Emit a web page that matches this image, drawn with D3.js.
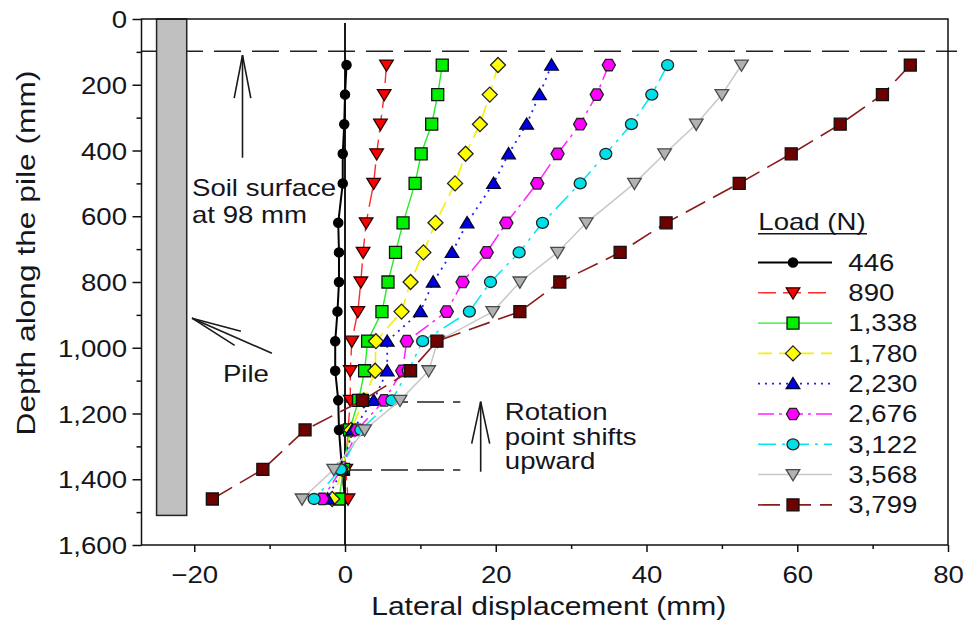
<!DOCTYPE html>
<html><head><meta charset="utf-8">
<script src="https://cdn.jsdelivr.net/npm/d3@7"></script>
<style>
html,body{margin:0;padding:0;background:#fff;}
svg{display:block;font-family:"Liberation Sans",Arial,Helvetica,sans-serif;}
</style></head><body>
<svg id="chart" width="970" height="628"></svg>
<script>
// ---------------- DATA ----------------
const depths = [140, 230, 320, 410, 500, 620, 710, 800, 890, 980, 1070, 1160, 1250, 1370, 1460];
const loads = ["446", "890", "1,338", "1,780", "2,230", "2,676", "3,122", "3,568", "3,799"];
const disp446  = [0.2, 0.0, -0.1, -0.3, -0.3, -0.9, -0.8, -0.8, -1.0, -1.3, -1.3, -0.9, -0.8, -0.4, 0.0];
const disp890  = [5.5, 5.2, 4.7, 4.2, 3.8, 2.8, 2.4, 2.1, 1.7, 0.9, 0.7, 0.7, 0.4, 0.1, 0.4];
const disp1338 = [12.9, 12.3, 11.5, 10.1, 9.3, 7.7, 6.7, 5.7, 4.9, 3.0, 2.6, 1.8, 0.6, -0.2, -0.8];
const disp1780 = [20.3, 19.2, 17.9, 16.0, 14.6, 12.0, 10.4, 8.7, 7.5, 4.1, 4.0, 2.5, 0.8, -0.3, -1.7];
const disp2230 = [27.4, 25.8, 24.1, 21.7, 19.7, 16.2, 14.2, 11.7, 10.0, 5.6, 5.6, 3.8, 1.0, -0.4, -2.3];
const disp2676 = [35.0, 33.4, 31.2, 28.2, 25.5, 21.4, 18.8, 15.6, 13.5, 8.2, 7.6, 5.2, 1.6, -0.5, -3.0];
const disp3122 = [42.8, 40.7, 38.0, 34.6, 31.2, 26.2, 23.1, 19.3, 16.5, 10.3, 8.4, 6.2, 2.1, -0.6, -4.1];
const disp3568 = [52.6, 50.0, 46.6, 42.4, 38.4, 32.0, 28.2, 23.2, 19.6, 12.3, 11.1, 7.3, 2.6, -1.5, -5.7];
const disp3799 = [75.0, 71.3, 65.7, 59.2, 52.3, 42.6, 36.5, 28.5, 23.2, 12.2, 8.7, 2.3, -5.3, -10.9, -17.6];
const xTicks = [-20, 0, 20, 40, 60, 80];
const xMinorTicks = [-10, 10, 30, 50, 70];
const yTicks = [0, 200, 400, 600, 800, 1000, 1200, 1400, 1600];
const yMinorTicks = [100, 300, 500, 700, 900, 1100, 1300, 1500];
const soilSurfaceDepth = 98;
const pileLeft = -25, pileRight = -21, pileBottom = 1510;
const rotationDepths = [1165, 1372];

const allSeries = [disp446, disp890, disp1338, disp1780, disp2230, disp2676, disp3122, disp3568, disp3799];

// ---------------- STYLES ----------------
const styles = [
  {color:'#000000', width:2.0, dash:null,        marker:'dot',     fill:'#000000', stroke:'#000000'},
  {color:'#ff2a2a', width:1.4, dash:'18,7',      marker:'tdown',   fill:'#ff0000', stroke:'#2a0000'},
  {color:'#22ee22', width:1.4, dash:null,        marker:'square',  fill:'#00f000', stroke:'#111111'},
  {color:'#f2f200', width:1.6, dash:'14,7',      marker:'diamond', fill:'#ffff00', stroke:'#222222'},
  {color:'#2020ff', width:1.8, dash:'2,5',       marker:'tup',     fill:'#0000e0', stroke:'#000033'},
  {color:'#ff22ff', width:1.5, dash:'16,5,3,5',  marker:'hex',     fill:'#ff00ff', stroke:'#222222'},
  {color:'#00e8f0', width:1.5, dash:'18,6,3,6',  marker:'circle',  fill:'#00e0e8', stroke:'#222222'},
  {color:'#c8c8c8', width:1.5, dash:null,        marker:'tdown',   fill:'#b2b2b2', stroke:'#4a4a4a'},
  {color:'#8b1a1a', width:1.6, dash:'22,9',      marker:'square',  fill:'#6e0000', stroke:'#111111'}
];
const textColor = '#15151c';

function markerPath(type){
  switch(type){
    case 'dot': return 'M-4.6,0a4.6,4.6 0 1,0 9.2,0a4.6,4.6 0 1,0 -9.2,0Z';
    case 'circle': return 'M-6,0a6,5.5 0 1,0 12,0a6,5.5 0 1,0 -12,0Z';
    case 'square': return 'M-6,-6h12v12h-12Z';
    case 'diamond': return 'M0,-7.5L7.5,0L0,7.5L-7.5,0Z';
    case 'tdown': return 'M-6.8,-5L6.8,-5L0,6.2Z';
    case 'tup': return 'M0,-6.2L6.8,5L-6.8,5Z';
    case 'hex': {
      const p = d3.path();
      for (let i = 0; i < 6; i++) {
        const a = Math.PI / 3 * i;
        const px = 6.6 * Math.cos(a), py = 6.6 * Math.sin(a);
        if (i === 0) p.moveTo(px, py); else p.lineTo(px, py);
      }
      p.closePath();
      return p.toString();
    }
  }
}

// ---------------- SCALES ----------------
const svg = d3.select('#chart');
const L = 141.5, R = 948, T = 19, B = 545;
const x = d3.scaleLinear().domain([-27, 80]).range([L, R]);
const y = d3.scaleLinear().domain([0, 1600]).range([T, B]);

function addText(parent, px, py, str, size, sx, anchor, rot) {
  let tr = `translate(${px},${py})`;
  if (rot) tr += ` rotate(${rot})`;
  tr += ` scale(${sx},1)`;
  return parent.append('text')
    .attr('transform', tr)
    .attr('text-anchor', anchor || 'start')
    .attr('fill', textColor)
    .style('font-size', size + 'px')
    .text(str);
}

// soil-surface dashed line (under pile)
svg.append('line')
  .attr('x1', x(-27)).attr('x2', R + 9)
  .attr('y1', y(soilSurfaceDepth)).attr('y2', y(soilSurfaceDepth))
  .attr('stroke', '#222').attr('stroke-width', 1.5)
  .attr('stroke-dasharray', '27,11').attr('stroke-dashoffset', 3.5);

// pile
svg.append('rect')
  .attr('x', x(pileLeft)).attr('y', y(0))
  .attr('width', x(pileRight) - x(pileLeft)).attr('height', y(pileBottom) - y(0))
  .attr('fill', '#c0c0c0').attr('stroke', '#222').attr('stroke-width', 1.5);

// zero line
svg.append('line')
  .attr('x1', x(0)).attr('x2', x(0))
  .attr('y1', T + 4).attr('y2', B)
  .attr('stroke', '#000').attr('stroke-width', 1.8);

// rotation dashed lines
rotationDepths.forEach(d => {
  svg.append('line')
    .attr('x1', x(0)).attr('x2', x(15.3))
    .attr('y1', y(d)).attr('y2', y(d))
    .attr('stroke', '#222').attr('stroke-width', 1.5)
    .attr('stroke-dasharray', '27,9');
});

// ---------------- SERIES ----------------
const line = d3.line().x(d => x(d[0])).y(d => y(d[1]));
allSeries.forEach((vals, i) => {
  const st = styles[i];
  const pts = vals.map((v, k) => [v, depths[k]]);
  const g = svg.append('g');
  g.append('path')
    .attr('d', line(pts))
    .attr('fill', 'none')
    .attr('stroke', st.color)
    .attr('stroke-width', st.width)
    .attr('stroke-dasharray', st.dash);
  g.selectAll('path.m').data(pts).join('path')
    .attr('class', 'm')
    .attr('d', markerPath(st.marker))
    .attr('transform', d => `translate(${x(d[0])},${y(d[1])})`)
    .attr('fill', st.fill)
    .attr('stroke', st.stroke)
    .attr('stroke-width', 1.3);
});

// ---------------- FRAME & AXES ----------------
svg.append('rect')
  .attr('x', L).attr('y', T).attr('width', R - L).attr('height', B - T)
  .attr('fill', 'none').attr('stroke', '#111').attr('stroke-width', 1.5);

const xAxis = svg.append('g').attr('transform', `translate(0,${B})`)
  .call(d3.axisBottom(x).tickValues(xTicks).tickSize(7).tickFormat(d3.format(',')));
const xAxisMinor = svg.append('g').attr('transform', `translate(0,${B})`)
  .call(d3.axisBottom(x).tickValues(xMinorTicks).tickSize(4).tickFormat(''));
const yAxis = svg.append('g').attr('transform', `translate(${L},0)`)
  .call(d3.axisLeft(y).tickValues(yTicks).tickSize(9).tickFormat(d3.format(',')));
const yAxisMinor = svg.append('g').attr('transform', `translate(${L},0)`)
  .call(d3.axisLeft(y).tickValues(yMinorTicks).tickSize(5).tickFormat(''));

[xAxis, xAxisMinor, yAxis, yAxisMinor].forEach(a => {
  a.select('.domain').remove();
  a.selectAll('.tick line').attr('stroke', '#111').attr('stroke-width', 1.5);
});
const tickSX = 1.15, tickFS = 24;
xAxis.selectAll('.tick text')
  .attr('fill', textColor).attr('font-family', null).attr('font-size', null)
  .style('font-size', tickFS + 'px')
  .attr('dy', null).attr('y', 37.7)
  .attr('transform', `scale(${tickSX},1)`);
yAxis.selectAll('.tick text')
  .attr('fill', textColor).attr('font-family', null).attr('font-size', null)
  .style('font-size', tickFS + 'px')
  .attr('dy', null).attr('y', 8.6).attr('x', -14.5 / tickSX)
  .attr('transform', `scale(${tickSX},1)`);

// axis titles
addText(svg, (L + R) / 2 + 4, 615, 'Lateral displacement (mm)', 25, 1.2, 'middle');
addText(svg, 35, 253, 'Depth along the pile (mm)', 26, 1.22, 'middle', -90);

// ---------------- ANNOTATIONS ----------------
function arrow(x1, y1, x2, y2, headLen, headHalf) {
  // (x2,y2) is the tip
  const dx = x1 - x2, dy = y1 - y2, len = Math.hypot(dx, dy);
  const ux = dx / len, uy = dy / len, nx = -uy, ny = ux;
  const g = svg.append('g').attr('stroke', '#1a1a1a').attr('stroke-width', 1.6).attr('fill', 'none');
  g.append('line').attr('x1', x1).attr('y1', y1).attr('x2', x2).attr('y2', y2);
  g.append('path').attr('d',
    `M${x2 + ux * headLen + nx * headHalf},${y2 + uy * headLen + ny * headHalf}L${x2},${y2}L${x2 + ux * headLen - nx * headHalf},${y2 + uy * headLen - ny * headHalf}`);
}
// soil surface arrow
arrow(x(-13.6), y(422), x(-13.6), y(110), 43, 8.3);
addText(svg, x(-20.3), 196, 'Soil surface', 23, 1.2, 'start');
addText(svg, x(-20.3), 222.7, 'at 98 mm', 23, 1.2, 'start');
// pile arrow
arrow(x(-9.7), y(1017), x(-20.3), y(910), 50, 7.8);
addText(svg, x(-16.2), 381.7, 'Pile', 23, 1.2, 'start');
// rotation arrow
arrow(x(18.0), y(1377), x(18.0), y(1164), 42, 9);
addText(svg, x(21.2), 420, 'Rotation', 23, 1.2, 'start');
addText(svg, x(21.2), 444.5, 'point shifts', 23, 1.2, 'start');
addText(svg, x(21.2), 469, 'upward', 23, 1.2, 'start');

// ---------------- LEGEND ----------------
const lg = svg.append('g');
addText(lg, 758.3, 230, 'Load (N)', 23, 1.2, 'start');
lg.append('line').attr('x1', 758).attr('x2', 867).attr('y1', 233.8).attr('y2', 233.8)
  .attr('stroke', textColor).attr('stroke-width', 1.6);
loads.forEach((lab, i) => {
  const st = styles[i];
  const ry = 262.5 + i * 30.3;
  lg.append('line').attr('x1', 758).attr('x2', 832).attr('y1', ry).attr('y2', ry)
    .attr('stroke', st.color).attr('stroke-width', st.width).attr('stroke-dasharray', st.dash);
  lg.append('path').attr('d', markerPath(st.marker))
    .attr('transform', `translate(793,${ry})`)
    .attr('fill', st.fill).attr('stroke', st.stroke).attr('stroke-width', 1.3);
  addText(lg, 848.3, ry + 8.3, lab, 23, 1.2, 'start');
});
</script>
</body></html>
